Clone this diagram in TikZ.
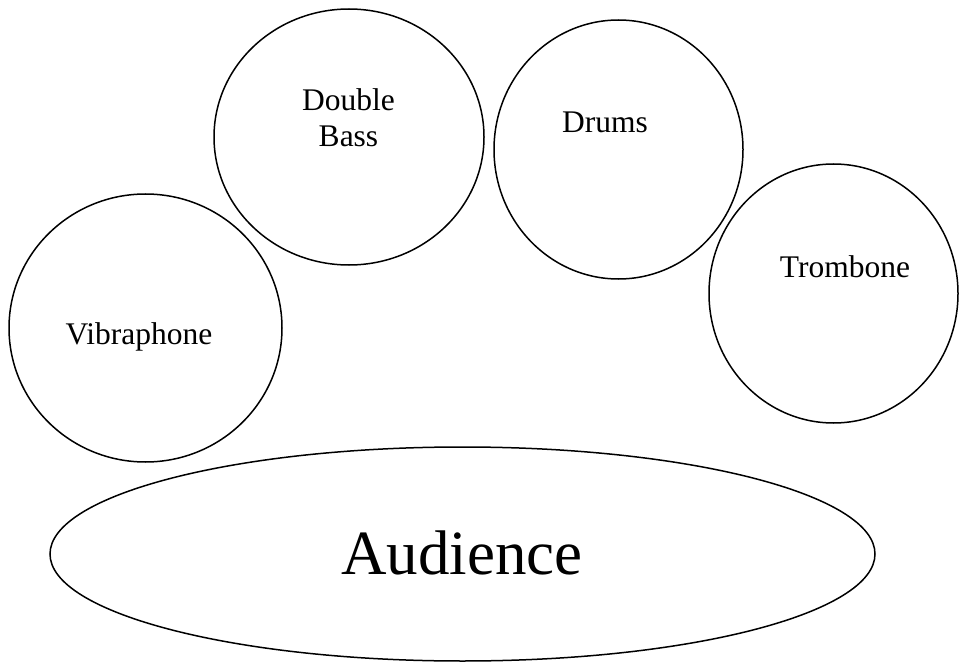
\documentclass[tikz,border=0pt]{standalone}
\usepackage{fontspec}
\setmainfont{Liberation Serif}
\usepackage{tikz}
\usetikzlibrary{shapes.geometric}

\begin{document}
\begin{tikzpicture}[x=1pt, y=-1pt,
    player/.style = {draw, ellipse, line width=1.5pt, inner sep=0pt},
    lbl/.style = {anchor=base, inner sep=0pt, font=\fontsize{31.5}{36}\selectfont, align=center}]
            \useasboundingbox (0,0) rectangle (959,666);  %Rahmen
            \node [player, minimum width=273pt, minimum height=268pt] (vib) at (145.5,328) {};
            \node [lbl] (vibtext) at (139,344) {Vibraphone};
            \node [player, minimum width=270pt, minimum height=256pt] (bass) at (349,137) {};
            \node [lbl] (basstext) at (348.5,147) {Double\\Bass};
            \node [player, minimum width=249pt, minimum height=259pt] (drums) at (618.5,149.5) {};
            \node [lbl] (drumstext) at (605,133) {Drums};
            \node [player, minimum width=249pt, minimum height=259pt] (trombone) at (833.5,293.5) {};
            \node [lbl] (trombonetext) at (845,277) {Trombone};
            \node [player, minimum width=825pt, minimum height=214pt] (audience) at (462.5,554) {};
            \node [lbl, font=\fontsize{63}{70}\selectfont] (audiencetext) at (462,574) {Audience};
        \end{tikzpicture}
\end{document}
